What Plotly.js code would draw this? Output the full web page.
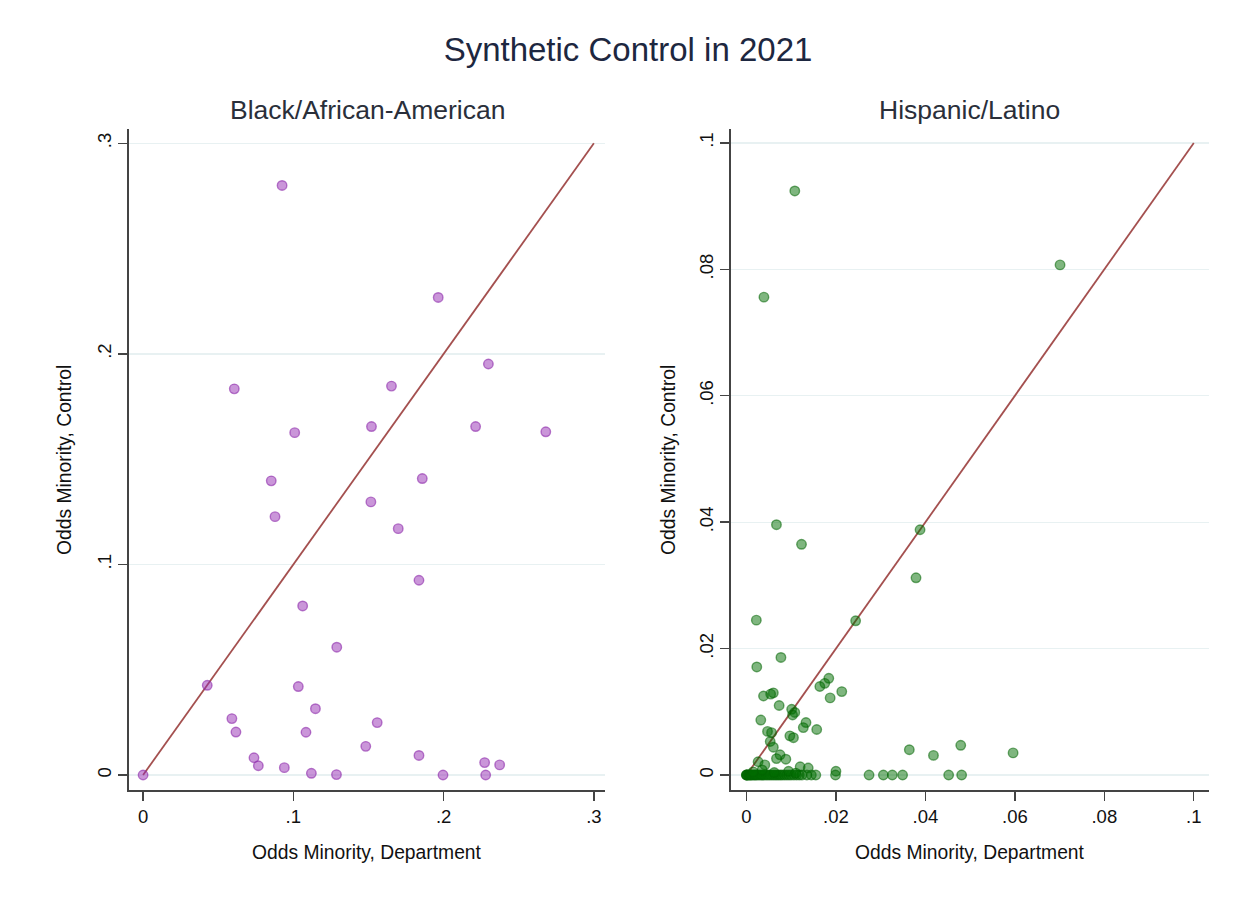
<!DOCTYPE html>
<html>
<head>
<meta charset="utf-8">
<script src="https://cdn.plot.ly/plotly-3.0.1.min.js"></script>
<style>html,body{margin:0;padding:0;background:#fff;}#chart{width:1249px;height:901px;}</style>
</head>
<body>
<div id="chart"></div>
<script>
// ---- Data ----
const blackDept = [0.0925, 0.1964, 0.2298, 0.0607, 0.1653, 0.1009, 0.152, 0.2213, 0.268,
  0.0853, 0.1858, 0.0878, 0.1516, 0.1698, 0.1836, 0.1062, 0.1289, 0.0427, 0.1033, 0.1147,
  0.0591, 0.0618, 0.1084, 0.1558, 0.1482, 0.0738, 0.0767, 0.094, 0.112, 0.1287, 0.1836,
  0.1996, 0.2273, 0.2373, 0.228, 0.0];
const blackCtrl = [0.280, 0.2268, 0.1952, 0.1834, 0.1847, 0.1626, 0.1655, 0.1655, 0.163,
  0.1397, 0.1408, 0.1227, 0.1297, 0.117, 0.0925, 0.0803, 0.0607, 0.0426, 0.042, 0.0315,
  0.0268, 0.0204, 0.0203, 0.0249, 0.0136, 0.0082, 0.0044, 0.0035, 0.0008, 0.0002, 0.0093,
  0.0, 0.0059, 0.0048, 0.0, 0.0];

const hispDept = [0.0108, 0.0701, 0.0039,
  0.0067, 0.0123, 0.0388, 0.0379, 0.0022, 0.0244,
  0.0077, 0.0023, 0.0184, 0.0175, 0.0164, 0.0213, 0.0187, 0.0060, 0.0054, 0.0038,
  0.0073, 0.0101, 0.0108, 0.0103, 0.0032, 0.0133, 0.0127, 0.0157, 0.0056, 0.0047,
  0.0097, 0.0105, 0.0053, 0.0060, 0.0075, 0.0088, 0.0067, 0.0026, 0.0041, 0.0120,
  0.0138, 0.0200, 0.0364, 0.0418, 0.0479, 0.0596,
  0.0000, 0.0000, 0.0000, 0.0002, 0.0004, 0.0006, 0.0008, 0.0010, 0.0012, 0.0015,
  0.0018, 0.0020, 0.0023, 0.0026, 0.0030, 0.0033, 0.0036, 0.0040, 0.0044, 0.0048,
  0.0052, 0.0056, 0.0060, 0.0064, 0.0068, 0.0072, 0.0076, 0.0080, 0.0085, 0.0090,
  0.0095, 0.0100, 0.0106, 0.0112, 0.0118, 0.0124, 0.0135, 0.0145, 0.0155,
  0.0199, 0.0274, 0.0306, 0.0326, 0.0349, 0.0452, 0.0481,
  0.0015, 0.0035, 0.0062, 0.0094, 0.0110];
const hispCtrl = [0.0924, 0.0807, 0.0756,
  0.0396, 0.0365, 0.0388, 0.0312, 0.0245, 0.0244,
  0.0186, 0.0171, 0.0153, 0.0145, 0.0140, 0.0132, 0.0122, 0.0130, 0.0128, 0.0125,
  0.0110, 0.0104, 0.0099, 0.0095, 0.0087, 0.0083, 0.0075, 0.0072, 0.0067, 0.0069,
  0.0062, 0.0059, 0.0053, 0.0044, 0.0032, 0.0025, 0.0026, 0.0021, 0.0016, 0.0013,
  0.0011, 0.0006, 0.0040, 0.0031, 0.0047, 0.0035,
  0, 0, 0, 0, 0, 0, 0, 0, 0, 0,
  0, 0, 0, 0, 0, 0, 0, 0, 0, 0,
  0, 0, 0, 0, 0, 0, 0, 0, 0, 0,
  0, 0, 0, 0, 0, 0, 0, 0, 0,
  0, 0, 0, 0, 0, 0, 0,
  0.0005, 0.0008, 0.0004, 0.0006, 0.0003];

const lineLeft = [0, 0.3];
const lineRight = [0, 0.1];

const leftTicks = [0, 0.1, 0.2, 0.3];
const leftTickText = ['0', '.1', '.2', '.3'];
const rightTicks = [0, 0.02, 0.04, 0.06, 0.08, 0.1];
const rightTickText = ['0', '.02', '.04', '.06', '.08', '.1'];

const mainTitle = 'Synthetic Control in 2021';
const panelTitles = ['Black/African-American', 'Hispanic/Latino'];
const xTitle = 'Odds Minority, Department';
const yTitle = 'Odds Minority, Control';

// ---- Styles ----
const FONT = '"Liberation Sans", Arial, sans-serif';
const W = 1249, H = 901;
const px2x = p => p / W;
const px2y = p => 1 - p / H;

const traces = [
  {x: lineLeft, y: lineLeft, xaxis: 'x', yaxis: 'y', mode: 'lines',
   line: {color: '#a4504f', width: 1.8}, hoverinfo: 'skip'},
  {x: blackDept, y: blackCtrl, xaxis: 'x', yaxis: 'y', mode: 'markers',
   marker: {size: 9.5, color: 'rgba(150,45,180,0.5)', line: {color: 'rgba(140,40,170,0.6)', width: 1.4}}},
  {x: lineRight, y: lineRight, xaxis: 'x2', yaxis: 'y2', mode: 'lines',
   line: {color: '#a4504f', width: 1.8}, hoverinfo: 'skip'},
  {x: hispDept, y: hispCtrl, xaxis: 'x2', yaxis: 'y2', mode: 'markers',
   marker: {size: 9.5, color: 'rgba(0,110,0,0.5)', line: {color: 'rgba(0,100,0,0.55)', width: 1.4}}}
];

const axisCommon = {
  showline: true, linecolor: '#444', linewidth: 1.6,
  ticks: 'outside', ticklen: 9, tickwidth: 1.4, tickcolor: '#444',
  zeroline: false, tickmode: 'array',
  tickfont: {family: FONT, size: 18.5, color: '#111'},
  fixedrange: true
};

const yDom = [px2y(790), px2y(129)];

const layout = {
  width: W, height: H,
  margin: {l: 0, r: 0, t: 0, b: 0},
  paper_bgcolor: '#fff', plot_bgcolor: '#fff',
  showlegend: false,
  title: {text: mainTitle, x: px2x(628), xanchor: 'center', y: px2y(49), yanchor: 'middle',
          font: {family: FONT, size: 33, color: '#1d2740'}},
  xaxis: Object.assign({}, axisCommon, {domain: [px2x(128.5), px2x(605)], range: [-0.0097, 0.3074],
          tickvals: leftTicks, ticktext: leftTickText, showgrid: false, anchor: 'y'}),
  yaxis: Object.assign({}, axisCommon, {domain: yDom, range: [-0.00712, 0.3068],
          tickvals: leftTicks, ticktext: leftTickText, tickangle: -90,
          showgrid: true, gridcolor: '#e8f1f2', gridwidth: 1.3, anchor: 'x'}),
  xaxis2: Object.assign({}, axisCommon, {domain: [px2x(730.7), px2x(1209)], range: [-0.00353, 0.1034],
          tickvals: rightTicks, ticktext: rightTickText, showgrid: false, anchor: 'y2'}),
  yaxis2: Object.assign({}, axisCommon, {domain: yDom, range: [-0.00237, 0.1022],
          tickvals: rightTicks, ticktext: rightTickText, tickangle: -90,
          showgrid: true, gridcolor: '#e8f1f2', gridwidth: 1.3, anchor: 'x2'}),
  annotations: [
    {text: panelTitles[0], xref: 'paper', yref: 'paper', x: px2x(367), y: px2y(110),
     xanchor: 'center', yanchor: 'middle', showarrow: false, font: {family: FONT, size: 26.5, color: '#2a2f3a'}},
    {text: panelTitles[1], xref: 'paper', yref: 'paper', x: px2x(970), y: px2y(110),
     xanchor: 'center', yanchor: 'middle', showarrow: false, font: {family: FONT, size: 26.5, color: '#2a2f3a'}},
    {text: xTitle, xref: 'paper', yref: 'paper', x: px2x(367), y: px2y(852),
     xanchor: 'center', yanchor: 'middle', showarrow: false, font: {family: FONT, size: 19.3, color: '#111'}},
    {text: xTitle, xref: 'paper', yref: 'paper', x: px2x(970), y: px2y(852),
     xanchor: 'center', yanchor: 'middle', showarrow: false, font: {family: FONT, size: 19.3, color: '#111'}},
    {text: yTitle, xref: 'paper', yref: 'paper', x: px2x(64), y: px2y(460),
     xanchor: 'center', yanchor: 'middle', textangle: -90, showarrow: false, font: {family: FONT, size: 19.3, color: '#111'}},
    {text: yTitle, xref: 'paper', yref: 'paper', x: px2x(668), y: px2y(460),
     xanchor: 'center', yanchor: 'middle', textangle: -90, showarrow: false, font: {family: FONT, size: 19.3, color: '#111'}}
  ]
};

Plotly.newPlot('chart', traces, layout, {staticPlot: true, displayModeBar: false});
</script>
</body>
</html>
